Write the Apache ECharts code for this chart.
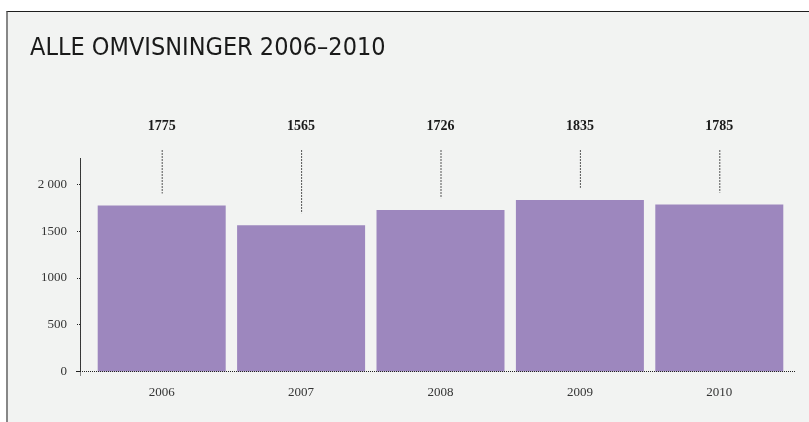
<!DOCTYPE html>
<html lang="no">
	<head>
		<meta charset="UTF-8">
		<title>Alle omvisninger 2006–2010</title>
		<script src="https://cdn.jsdelivr.net/npm/echarts@6/dist/echarts.min.js"></script>
		<style>
			html, body { margin: 0; padding: 0; background: #fff; }
			#frame {
				position: absolute; left: 6px; top: 11px; width: 801px; height: 411px;
				border-left: 2px solid #878787; border-top: 1px solid #1e1e1e;
				background: #f2f3f2;
			}
			#chart { position: absolute; left: 0; top: 0; width: 809px; height: 422px; }
		</style>
	</head>
	<body>
		<div id="frame"></div>
		<div id="chart"></div>

		<script>
			// data
			const years = ['2006', '2007', '2008', '2009', '2010'];
			const visits = [1775, 1565, 1726, 1835, 1785];
			const yTicks = [0, 500, 1000, 1500, 2000];
			const yTickLabels = ['0', '500', '1000', '1500', '2 000'];

			const serif = '"Liberation Serif", "DejaVu Serif", serif';
			const gridTop = 158;
			const gridBottom = 50.5;
			const labelY = 126;   // y of the value labels
			const lineTop = 150;  // top of the dotted connectors

			const chartDom = document.getElementById('chart');
			const chart = echarts.init(chartDom);

			const option = {
				backgroundColor: 'transparent',
				animation: false,
				title: {
					text: 'ALLE OMVISNINGER 2006–2010',
					left: 25,
					top: 31,
					textStyle: {
						fontFamily: '"Liberation Sans Narrow", "DejaVu Sans Condensed", sans-serif',
						fontSize: 25,
						fontWeight: 'normal',
						color: '#1a1a1a'
					}
				},
				grid: {
					left: 92,
					right: 20,
					top: gridTop,
					bottom: gridBottom
				},
				xAxis: {
					type: 'category',
					data: years,
					axisLine: { show: false }, // drawn below as a graphic, it is longer than the grid
					axisTick: { show: false },
					axisLabel: {
						margin: 15,
						fontFamily: serif,
						fontSize: 13,
						color: '#333'
					}
				},
				yAxis: {
					type: 'value',
					min: 0,
					max: 2283,
					offset: 12,
					splitLine: { show: false },
					axisLine: {
						show: true,
						lineStyle: { color: '#222', type: [1, 1], width: 1 }
					},
					axisTick: {
						show: true,
						length: 3,
						customValues: yTicks,
						lineStyle: { color: '#222', type: [1, 1] }
					},
					axisLabel: {
						margin: 13,
						customValues: yTicks,
						fontFamily: serif,
						fontSize: 13,
						color: '#333',
						formatter: function (v) {
							const i = yTicks.indexOf(v);
							return i >= 0 ? yTickLabels[i] : '';
						}
					}
				},
				series: [
					{
						type: 'bar',
						data: visits,
						barWidth: 128,
						itemStyle: { color: '#9d87be' }
					},
					{
						// value label on a fixed row + dotted connector down to the bar
						type: 'custom',
						clip: false,
						z: 5,
						data: visits.map(function (v, i) { return [i, v]; }),
						renderItem: function (params, api) {
							const p = api.coord([api.value(0), api.value(1)]);
							return {
								type: 'group',
								children: [
									{
										type: 'text',
										style: {
											x: p[0],
											y: labelY,
											text: String(api.value(1)),
											align: 'center',
											verticalAlign: 'middle',
											fontFamily: serif,
											fontSize: 14,
											fontWeight: 'bold',
											fill: '#1a1a1a'
										}
									},
									{
										type: 'line',
										shape: { x1: p[0] + 0.5, y1: lineTop, x2: p[0] + 0.5, y2: p[1] - 12 },
										style: { stroke: '#555', lineWidth: 1, lineDash: [2, 1] }
									}
								]
							};
						}
					}
				],
				graphic: [
					{
						type: 'line',
						shape: { x1: 76, y1: 422 - gridBottom, x2: 795, y2: 422 - gridBottom },
						style: { stroke: '#222', lineWidth: 1, lineDash: [1, 1] },
						z: 10
					},
					{
						type: 'line',
						shape: { x1: 80.5, y1: 422 - gridBottom, x2: 80.5, y2: 376 },
						style: { stroke: '#222', lineWidth: 1, lineDash: [1, 1] },
						z: 10
					}
				]
			};

			chart.setOption(option);
		</script>
	</body>
</html>
